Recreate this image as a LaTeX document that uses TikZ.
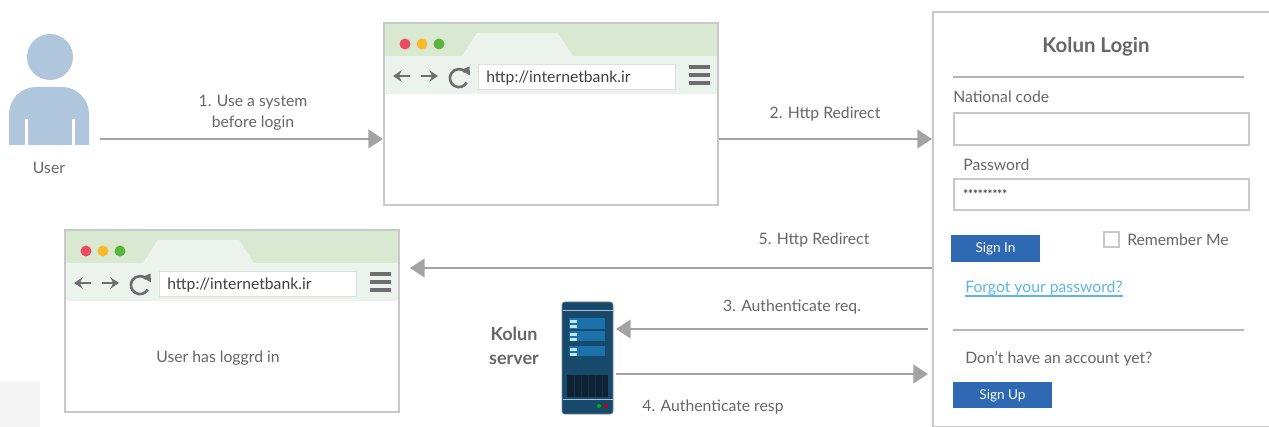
\documentclass[tikz,border=0pt]{standalone}
\usepackage{fontspec}
\setmainfont{Lato}
\usetikzlibrary{arrows.meta}
\definecolor{barGreen}{HTML}{D9E8D0}
\definecolor{tabGreen}{HTML}{EBF3EC}
\definecolor{frameGray}{HTML}{C9C9C9}
\definecolor{lineGray}{HTML}{A3A3A3}
\definecolor{textGray}{HTML}{666666}
\definecolor{iconGray}{HTML}{6E6E6E}
\definecolor{btnBlue}{HTML}{2F69B3}
\definecolor{linkBlue}{HTML}{5DB6EA}
\definecolor{userBlue}{HTML}{AFC6DC}
\definecolor{rackBlue}{HTML}{17496B}
\definecolor{rackEdge}{HTML}{10344F}
\definecolor{rackDark}{HTML}{0F2234}
\definecolor{rackStripe}{HTML}{1B72AA}
\tikzset{
    textlabel/.style={inner sep=0mm,anchor=mid,yshift=-2pt,text=textGray,font=\fontsize{11.8}{15.75}\selectfont},
    leftlabel/.style={textlabel,anchor=mid west},
    twolines/.style={textlabel,anchor=center,yshift=0pt,align=center},
    button/.style={fill=btnBlue,text=white,inner sep=0mm,text height=6.5pt,text depth=0pt,font=\fontsize{10.2}{12}\selectfont},
    flow/.style={draw=lineGray,line width=1.6pt,-{Triangle[length=11pt,width=14pt]}},
    browserbox/.style={draw=frameGray,line width=1.5pt,minimum width=250.5pt,minimum height=136.5pt,inner sep=0mm},
    field/.style={draw=frameGray,line width=1.5pt,fill=white,inner sep=0mm,minimum width=221.25pt,minimum height=23.5pt},
    rule/.style={draw=frameGray!90!black,line width=1.5pt},
    navicon/.style={draw=iconGray,line width=2.2pt,-{Stealth[length=6.5pt,width=8.5pt]}}
}
\newcommand{\browser}[3] {
    \begin{scope}[shift={(#2,#3)}]
        \fill[white] (0,0) rectangle (334,182);
        \fill[barGreen] (0,0) rectangle (334,33);
        \fill[tabGreen] (0,33) rectangle (334,71);
        \fill[tabGreen] (78,33) -- (93,10) -- (174,10) -- (189,33) -- cycle;
        \foreach \dotx/\dotcolor in {21/EE4A62,38/FBB829,55/5AB53A} {
            \definecolor{dotfill}{HTML}{\dotcolor}
            \fill[dotfill] (\dotx,21) circle (5.5);
        }
        \draw[navicon] (26,53) -- (9,53);
        \draw[navicon] (37,53) -- (54,53);
        \draw[iconGray,line width=2pt] (82.7,59.6) arc (30:315:9);
        \fill[iconGray] (77,47) -- (85.5,43.5) -- (86,52.5) -- cycle;
        \node[draw=frameGray!60,fill=white,inner sep=0mm,minimum width=147.75pt,minimum height=18.75pt] (#1url) at (192.5,53.5) {};
        \node[leftlabel,text=black!75] (#1text) at (102,53.5) {http://internetbank.ir};
        \foreach \bary in {44,52,60}
            \draw[iconGray,line width=2.4pt] (305,\bary) -- (326,\bary);
        \node[browserbox] (#1) at (167,91) {};
    \end{scope}
}
\newcommand{\rack}[3] {
    \begin{scope}[shift={(#2,#3)}]
        \node[fill=rackBlue,draw=rackEdge!60,inner sep=0mm,minimum width=38.25pt,minimum height=84pt,rounded corners=2pt] (#1) at (25.5,56) {};
        \draw[white!65!rackBlue,line width=0.75pt] (0.5,8) -- (50.5,8);
        \draw[white!65!rackBlue,line width=0.75pt] (0.5,97) -- (50.5,97);
        \fill[rackDark] (5,73) rectangle (46,95);
        \foreach \gridx in {12,19,26,33,40}
            \draw[rackBlue!40!rackDark,line width=0.4pt] (\gridx,73) -- (\gridx,95);
        \foreach \stripey/\stripeh in {16/11,29/10,44/10}
            \fill[rackStripe] (7,\stripey) rectangle (43,\stripey+\stripeh);
        \foreach \dashy in {18,23,31,36,46,51}
            \fill[black!5!cyan!25] (8,\dashy) rectangle (15,\dashy+2.5);
        \fill[green!70!black] (37,104) circle (2);
        \fill[red!80!black] (44,104) circle (2);
    \end{scope}
}
\begin{document}
\begin{tikzpicture}[x=0.75pt,y=-0.75pt]
    \useasboundingbox (0,0) rectangle (1269,427);
    \fill[black!4] (0,381) rectangle (40,427);

    % user
    \fill[userBlue] (50,57) circle (23);
    \fill[userBlue] (9,145) -- (9,114) arc (180:270:27) -- (62,87) arc (270:360:27) -- (89,145) -- cycle;
    \fill[white] (25,119) rectangle (28,145);
    \fill[white] (72,119) rectangle (75,145);
    \node[textlabel] (userlabel) at (49,167) {User};
    \coordinate (userend) at (100,139);

    \browser{browserA}{384}{23}
    \browser{browserB}{65}{230}
    \node[textlabel] (loggedin) at (218,356) {User has loggrd in};

    % login page
    \node[draw=frameGray,line width=1.5pt,fill=white,inner sep=0mm,minimum width=300pt,minimum height=311pt] (login) at (1133,219.5) {};
    \node[textlabel,font=\fontsize{15.3}{18}\selectfont\bfseries] (logintitle) at (1096,46) {Kolun Login};
    \draw[rule] (953,77) -- (1244,77);
    \node[leftlabel] (nationallabel) at (953,96) {National code};
    \node[field] (nationalfield) at (1101.5,129) {};
    \node[leftlabel] (passlabel) at (963,164) {Password};
    \node[field] (passfield) at (1101.5,194.5) {};
    \node[leftlabel,text=black!75,font=\fontsize{8.6}{10}\selectfont\bfseries] (passtext) at (963,192) {*********};
    \node[button,minimum width=66.75pt,minimum height=20.25pt] (signin) at (995.5,248.5) {Sign In};
    \node[draw=frameGray,line width=1.5pt,inner sep=0mm,minimum size=11.5pt] (remember) at (1111.5,239.5) {};
    \node[leftlabel] (rememberlabel) at (1127,239) {Remember Me};
    \node[leftlabel,text=linkBlue] (forgot) at (965,286) {Forgot your password?};
    \draw[linkBlue,line width=0.8pt] (forgot.west |- 0,296) -- (forgot.east |- 0,296);
    \draw[rule] (953,330) -- (1244,330);
    \node[leftlabel] (noaccount) at (965,357) {Don't have an account yet?};
    \node[button,minimum width=74.25pt,minimum height=19.5pt] (signup) at (1002.5,395) {Sign Up};

    % server
    \rack{server}{562}{302}
    \node[twolines,font=\fontsize{13.5}{18}\selectfont\bfseries] (serverlabel) at (514,343) {Kolun\\server};

    % connectors
    \coordinate (arrowthree) at (928,329);
    \coordinate (arrowfour) at (928,374);
    \coordinate (arrowfive) at (410,268);
    \draw[flow] (userend) -- (browserA.west |- userend);
    \draw[flow] (browserA.east |- userend) -- (login.west |- userend);
    \draw[flow] (login.west |- arrowfive) -- (arrowfive);
    \draw[flow] (arrowthree) -- (616,329);
    \draw[flow] (616,374) -- (arrowfour);

    \node[twolines] (stepone) at (253,110.5) {1. Use a system\\before login};
    \node[textlabel] (steptwo) at (825,112) {2. Http Redirect};
    \node[textlabel] (stepthree) at (792,305) {3. Authenticate req.};
    \node[textlabel] (stepfour) at (713,405) {4. Authenticate resp};
    \node[textlabel] (stepfive) at (814,238) {5. Http Redirect};
\end{tikzpicture}
\end{document}
